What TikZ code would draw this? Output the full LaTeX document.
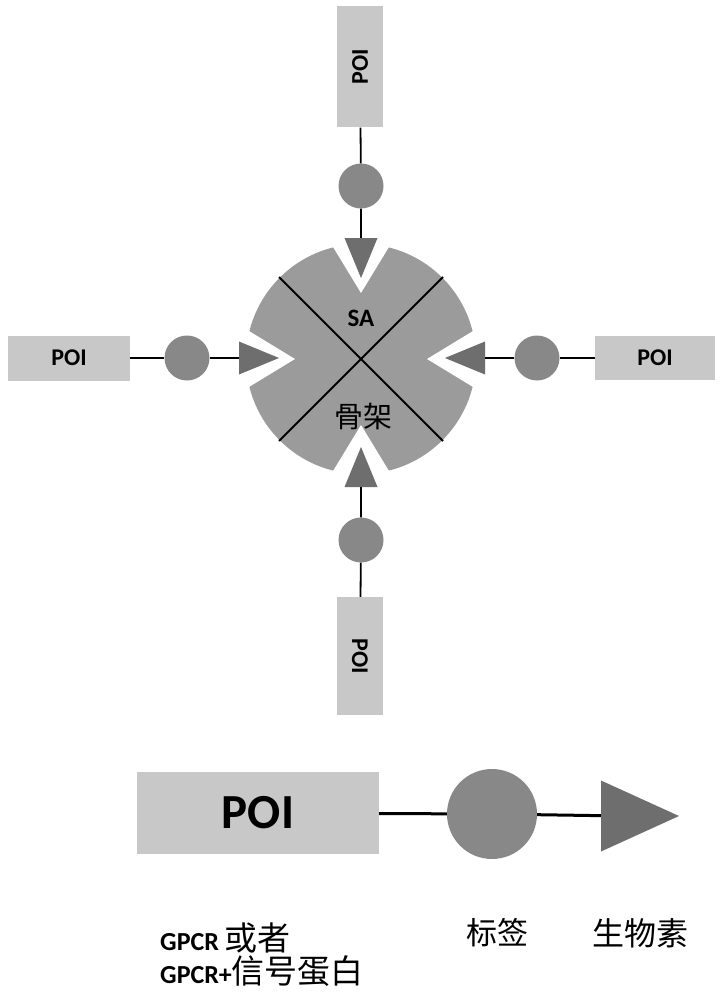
\documentclass[tikz,border=0pt]{standalone}
\usepackage{fontspec}
\setmainfont{Carlito}
\newfontfamily\cjk{Noto Sans CJK SC}
\usetikzlibrary{shapes.geometric,calc}
\definecolor{scaf}{HTML}{9B9B9B}
\definecolor{tagc}{HTML}{888888}
\definecolor{tric}{HTML}{6E6E6E}
\definecolor{boxc}{HTML}{C8C8C8}
\begin{document}
\begin{tikzpicture}[x=1pt,y=-1pt,
  poibox/.style={draw=none,fill=boxc,inner sep=0pt,font=\fontsize{24}{28}\selectfont\bfseries},
  tagdot/.style={circle,fill=tagc,inner sep=0pt,minimum size=45pt},
  arrowtri/.style={isosceles triangle,isosceles triangle stretches,fill=tric,inner sep=0pt,outer sep=0pt,minimum width=33pt,minimum height=40pt,anchor=apex},
  link/.style={draw=black,line width=1.8pt},
  notch/.style={fill=white}]
\useasboundingbox (0,0) rectangle (724,1000);
\coordinate (C) at (361,359);
% scaffold
\fill[scaf] (C) circle[radius=115];
% notches
\foreach \a in {0,90,180,270}{
  \fill[notch,rotate around={\a:(C)}] ($(C)+(66,0)$) -- ($(C)+(140,-45)$) -- ($(C)+(140,45)$) -- cycle;
}
\draw[line width=1.8pt] ($(C)+(-82,-82)$) -- ($(C)+(82,82)$);
\draw[line width=1.8pt] ($(C)+(82,-82)$) -- ($(C)+(-82,82)$);
\node[font=\fontsize{25}{28}\selectfont\bfseries] (sa) at (361,318) {SA};
\node[font=\cjk\fontsize{29}{32}\selectfont] (gj) at (363,417) {骨架};
% arrow triangles
\node[arrowtri,rotate=-90] (triT) at (361,278) {};
\node[arrowtri,rotate=90] (triB) at (361,447) {};
\node[arrowtri] (triL) at (279,358) {};
\node[arrowtri,rotate=180] (triR) at (445,358) {};
% tags
\node[tagdot] (tagT) at (361,186) {};
\node[tagdot] (tagB) at (361,540) {};
\node[tagdot] (tagL) at (187,358) {};
\node[tagdot] (tagR) at (537,358) {};
% POI boxes
\node[poibox,minimum width=121pt,minimum height=46pt,rotate=90] (poiT) at (360,67) {POI};
\node[poibox,minimum width=118pt,minimum height=46pt,rotate=-90] (poiB) at (360,656) {POI};
\node[poibox,minimum width=122pt,minimum height=45pt] (poiL) at (69,358) {POI};
\node[poibox,minimum width=120pt,minimum height=44pt] (poiR) at (655,358) {POI};
% connectors
\path[link] (poiT) -- (tagT) (tagT) -- (triT);
\path[link] (poiB) -- (tagB) (tagB) -- (triB);
\path[link] (poiL) -- (tagL) (tagL) -- (triL);
\path[link] (poiR) -- (tagR) (tagR) -- (triR);
% legend
\node[poibox,minimum width=242pt,minimum height=82pt,font=\fontsize{49}{52}\selectfont\bfseries] (lpoi) at (258,813) {POI};
\node[tagdot,minimum size=90pt] (ltag) at (492,814) {};
\node[arrowtri,minimum width=71pt,minimum height=78pt] (ltri) at (679,816) {};
\path[draw=black,line width=3pt] (lpoi) -- (ltag) (ltag) -- (ltri);
\node[anchor=west,inner sep=0pt,font=\fontsize{26}{30}\selectfont\bfseries] (t1) at (160,938) {GPCR {\cjk\mdseries\fontsize{33}{36}\selectfont 或者}};
\node[anchor=west,inner sep=0pt,font=\fontsize{26}{30}\selectfont\bfseries] (t2) at (160,971) {GPCR+{\cjk\mdseries\fontsize{33}{36}\selectfont 信号蛋白}};
\node[font=\cjk\fontsize{31}{34}\selectfont] (t3) at (497,933) {标签};
\node[font=\cjk\fontsize{32}{34}\selectfont] (t4) at (640,933) {生物素};
\end{tikzpicture}
\end{document}
